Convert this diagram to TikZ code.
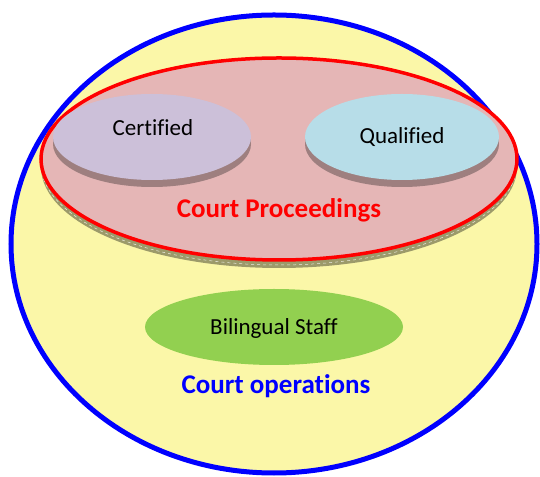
\documentclass[tikz,border=0pt]{standalone}
\usepackage{fontspec}
\setmainfont[Ligatures=NoCommon]{Carlito}
\usetikzlibrary{shapes.geometric}
\definecolor{outerfill}{HTML}{FBF7A8}
\definecolor{outerline}{HTML}{0000FF}
\definecolor{procfill}{HTML}{E5B6B6}
\definecolor{procline}{HTML}{FF0000}
\definecolor{olive}{HTML}{9C9A6A}
\definecolor{certfill}{HTML}{CCC0D9}
\definecolor{qualfill}{HTML}{B7DDE8}
\definecolor{shade}{HTML}{9E7F7F}
\definecolor{greenfill}{HTML}{92D050}
\tikzset{
  blob/.style={ellipse, inner sep=0pt, draw=none},
  lbl/.style={font=\fontsize{23}{26}\selectfont, text=black, inner sep=0pt},
  big/.style={font=\fontsize{27}{31}\selectfont\bfseries, inner sep=0pt},
}
\begin{document}
\begin{tikzpicture}[x=1pt,y=1pt]
\useasboundingbox (0,0) rectangle (540,476);
% outer
\node[blob, fill=outerfill, draw=outerline, line width=5pt, minimum width=526pt, minimum height=458pt] (outer) at (274,232) {};
% court proceedings with shadow
\node[blob, fill=olive, minimum width=476pt, minimum height=202pt] (procshadow) at (279,309) {};
\node[blob, draw=white!80!olive, dashed, line width=0.5pt, minimum width=476pt, minimum height=202pt] (procbevel) at (279,312) {};
\node[blob, fill=procfill, draw=procline, line width=3.5pt, minimum width=476pt, minimum height=202pt] (proc) at (279,317) {};
% certified
\node[blob, fill=shade, minimum width=198pt, minimum height=86pt] (certshadow) at (152,332) {};
\node[blob, fill=certfill, minimum width=198pt, minimum height=86pt] (cert) at (152,339) {};
\node[lbl] (certtext) at (153,348) {Certified};
% qualified
\node[blob, fill=shade, minimum width=194pt, minimum height=86pt] (qualshadow) at (402,332) {};
\node[blob, fill=qualfill, minimum width=194pt, minimum height=86pt] (qual) at (402,339) {};
\node[lbl] (qualtext) at (402,339) {Qualified};
% labels
\node[big, text=procline] (proctext) at (279,266) {Court Proceedings};
% bilingual
\node[blob, fill=greenfill, minimum width=258pt, minimum height=76pt] (bil) at (274,149) {};
\node[lbl] (biltext) at (274,148) {Bilingual Staff};
\node[big, text=outerline] (optext) at (276,90) {Court operations};
\end{tikzpicture}
\end{document}
